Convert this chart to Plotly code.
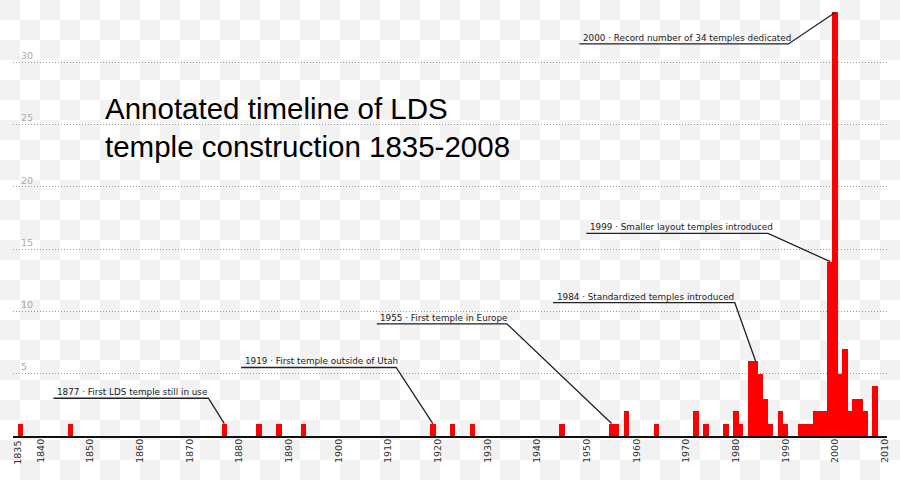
import base64
import plotly.graph_objects as go

# ---------------- data ----------------
years = [1836, 1846, 1877, 1884, 1888, 1893, 1919, 1923, 1927, 1945,
         1955, 1956, 1958, 1964, 1972, 1974, 1978, 1980, 1981, 1983,
         1984, 1985, 1986, 1987, 1989, 1990, 1993, 1994, 1995, 1996,
         1997, 1998, 1999, 2000, 2001, 2002, 2003, 2004, 2005, 2006, 2008]
dedications = [1, 1, 1, 1, 1, 1, 1, 1, 1, 1,
               1, 1, 2, 1, 2, 1, 1, 2, 1, 6,
               6, 5, 3, 1, 2, 1, 1, 1, 1, 2,
               2, 2, 14, 34, 5, 7, 2, 3, 3, 2, 4]

x_tick_vals = [1835, 1840, 1850, 1860, 1870, 1880, 1890, 1900, 1910,
               1920, 1930, 1940, 1950, 1960, 1970, 1980, 1990, 2000, 2010]
x_tick_text = [str(v) for v in x_tick_vals]
y_tick_vals = [5, 10, 15, 20, 25, 30]
y_tick_text = ["5", "10", "15", "20", "25", "30"]

event_years = [1877, 1919, 1955, 1984, 1999, 2000]
event_texts = [
    "1877 · First LDS temple still in use",
    "1919 · First temple outside of Utah",
    "1955 · First temple in Europe",
    "1984 · Standardized temples introduced",
    "1999 · Smaller layout temples introduced",
    "2000 · Record number of 34 temples dedicated",
]

title_text = "Annotated timeline of LDS<br>temple construction 1835-2008"

# ---------------- layout placement of callout labels (style, not data) ----------------
label_x0 = [1842.6, 1880.4, 1907.7, 1943.2, 1949.9, 1948.5]
label_x1 = [1873.8, 1911.6, 1933.9, 1979.8, 1986.5, 1990.6]
label_y = [3.03, 5.5, 9.0, 10.7, 16.27, 31.47]

value_of = dict(zip(years, dedications))

W, H = 900, 480
ML, MR, MT, MB = 13, 13, 0, 44
Y_RANGE = [0, 35]
TICK_FONT = dict(family="DejaVu Sans", size=9.5, color="#333333")

fig = go.Figure()
fig.add_trace(go.Bar(
    x=years, y=dedications, width=1.1,
    marker=dict(color="#ff0000", line=dict(width=0)),
    hoverinfo="x+y",
))

# checkerboard background (transparency pattern baked into the reference)
svg = ('<svg xmlns="http://www.w3.org/2000/svg" width="900" height="480">'
       '<defs><pattern id="c" width="40" height="40" patternUnits="userSpaceOnUse">'
       '<rect width="40" height="40" fill="#ffffff"/>'
       '<rect width="20" height="20" fill="#f2f2f2"/>'
       '<rect x="20" y="20" width="20" height="20" fill="#f2f2f2"/>'
       '</pattern></defs><rect width="900" height="480" fill="url(#c)"/></svg>')
src = "data:image/svg+xml;base64," + base64.b64encode(svg.encode()).decode()
pw = W - ML - MR
ph = H - MT - MB
fig.add_layout_image(dict(
    source=src, xref="paper", yref="paper",
    x=-ML / pw, y=1 + MT / ph, sizex=W / pw, sizey=H / ph,
    xanchor="left", yanchor="top", sizing="stretch", layer="below",
))

shapes = []
annotations = []
for yr, txt, x0, x1, ly in zip(event_years, event_texts, label_x0, label_x1, label_y):
    shapes.append(dict(
        type="path", xref="x", yref="y",
        path=f"M {x0},{ly} L {x1},{ly} L {yr},{value_of[yr]}",
        line=dict(color="#222222", width=1.3),
    ))
    annotations.append(dict(
        x=x0 + 0.3, y=ly, xref="x", yref="y", text=txt, showarrow=False,
        xanchor="left", yanchor="bottom", yshift=-1,
        font=dict(family="DejaVu Sans", size=8.8, color="#222222"),
    ))

annotations.append(dict(
    x=(103 - ML) / pw, y=1 - (90 - MT) / ph, xref="paper", yref="paper",
    text=title_text, showarrow=False, xanchor="left", yanchor="top", align="left",
    font=dict(family="Liberation Sans", size=29.5, color="#000000"),
))

# the edge tick label (plotly drops it next to the plot edge)
annotations.append(dict(
    x=x_tick_vals[0], y=0, xref="x", yref="paper", text=x_tick_text[0],
    showarrow=False, textangle=-90, xanchor="center", yanchor="top",
    yshift=-3, xshift=1, font=TICK_FONT,
))

fig.update_layout(
    width=W, height=H,
    margin=dict(l=ML, r=MR, t=MT, b=MB, pad=0),
    paper_bgcolor="#ffffff", plot_bgcolor="rgba(0,0,0,0)",
    showlegend=False, bargap=0,
    shapes=shapes, annotations=annotations,
    xaxis=dict(
        range=[1834.45, 2010.45], tickmode="array",
        tickvals=x_tick_vals, ticktext=x_tick_text, tickangle=-90,
        tickfont=TICK_FONT,
        showgrid=False, zeroline=False, showline=True,
        linecolor="#111111", linewidth=2, ticks="", ticklabelstandoff=-3,
        ticklabeloverflow="allow",
        automargin=False, fixedrange=True,
    ),
    yaxis=dict(
        range=Y_RANGE, tickmode="array", tickvals=y_tick_vals, ticktext=y_tick_text,
        tickfont=dict(family="DejaVu Sans", size=9.5, color="#aaaaaa"),
        ticklabelposition="inside top", ticklabelstandoff=5,
        showgrid=True, gridcolor="#999999", gridwidth=1, griddash="1px,2px",
        zeroline=False, showline=False, ticks="", automargin=False, fixedrange=True,
    ),
)

fig.write_html(
    "out.html",
    config={"displayModeBar": False},
    post_script="document.body.style.margin='0px';document.body.style.padding='0px';",
)
